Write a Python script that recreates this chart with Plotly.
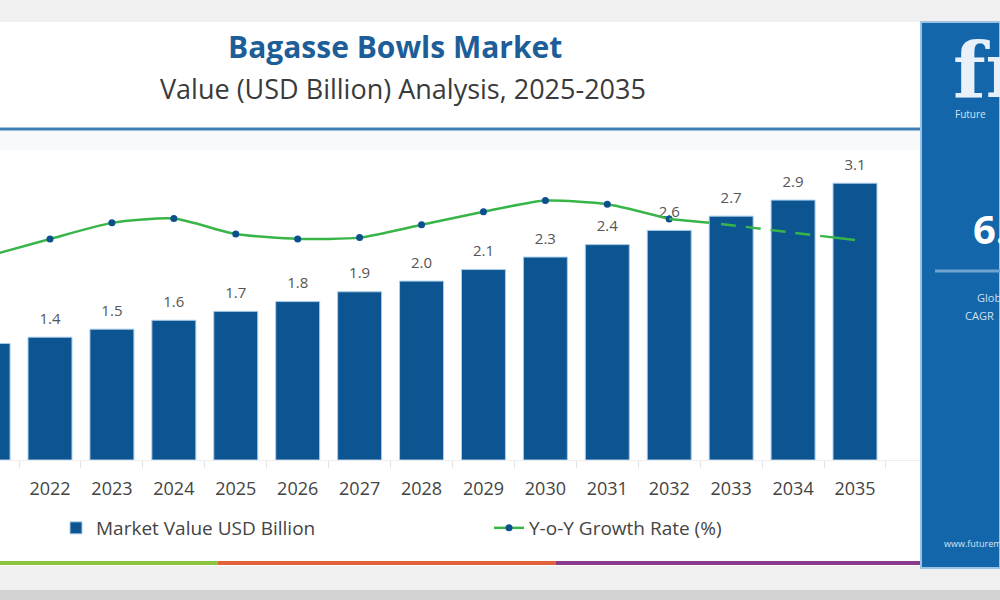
import plotly.graph_objects as go

# ---------------- data ----------------
years = [str(y) for y in range(2021, 2036)]
market_value = [1.31, 1.38, 1.47, 1.57, 1.67, 1.78, 1.89, 2.01, 2.14, 2.28, 2.42, 2.58, 2.74, 2.92, 3.11]
yoy_actual_years = years[:12]          # 2021-2032 solid
yoy_actual = [6.22, 6.74, 7.23, 7.36, 6.89, 6.74, 6.78, 7.17, 7.57, 7.91, 7.80, 7.35]
yoy_fcst_years = years[11:]            # 2032-2035 dashed
yoy_fcst = [7.35, 7.16, 6.93, 6.71]

title = "Bagasse Bowls Market"
subtitle = "Value (USD Billion) Analysis, 2025-2035"

W, H = 1000, 600
BAR_BLUE = "#0c5591"
GREEN = "#38b549"
FONT = "Open Sans"


def py(p):
    return 1 - p / H


def px(p):
    return p / W


fig = go.Figure()

fig.add_trace(go.Bar(
    x=years, y=market_value, name="Market Value USD Billion",
    marker=dict(color=BAR_BLUE, line=dict(color="#a9cdec", width=1)),
    yaxis="y", showlegend=True, hoverinfo="x+y",
))

# value labels above the bars (the 2021 bar is cropped at the left edge, its label is not shown)
labels = [f"{v:.1f}" for v in market_value]
labels[0] = ""
fig.add_trace(go.Scatter(
    x=years, y=market_value, mode="markers+text", yaxis="y", showlegend=False,
    text=labels, textposition="top center",
    textfont=dict(family=FONT, size=15, color="#555555"),
    marker=dict(size=14, opacity=0), hoverinfo="skip",
))

fig.add_trace(go.Scatter(
    x=yoy_actual_years, y=yoy_actual, name="Y-o-Y Growth Rate (%)",
    mode="lines+markers", yaxis="y2",
    line=dict(color=GREEN, width=2.5, shape="spline", smoothing=0.6),
    marker=dict(color="#0b4f8c", size=7),
))
fig.add_trace(go.Scatter(
    x=yoy_fcst_years, y=yoy_fcst, name="Y-o-Y Growth Rate (%)",
    mode="lines", yaxis="y2", showlegend=False,
    line=dict(color=GREEN, width=2.5, dash="40px,12px,15px,10px,15px,10px,15px,10px,15px,10px",
              shape="spline", smoothing=0.6),
))


def note(x, y, text, size, color, family=FONT, xanchor="center"):
    return dict(x=px(x), y=py(y), xref="paper", yref="paper", text=text, showarrow=False,
                xanchor=xanchor, yanchor="middle",
                font=dict(family=family, size=size, color=color))


annotations = [
    note(395, 46, f"<b>{title}</b>", 30, "#1d5e98"),
    note(403, 88, subtitle, 27, "#3a3a3a"),
    # side panel texts
    note(951, 70, "<b>fr</b>", 76, "#e8f1fa", family="DejaVu Serif", xanchor="left"),
    note(953, 114, "Future", 10, "#d5e5f4", xanchor="left"),
    note(971, 229, "<b>6.</b>", 40, "#ffffff", xanchor="left"),
    note(975, 297, "Global", 11, "#cfe0f0", xanchor="left"),
    note(963, 315, "CAGR", 11, "#cfe0f0", xanchor="left"),
    note(942, 543, "www.futuremarketinsights.com", 9, "#d5e5f4", xanchor="left"),
]

shapes = [
    # white card
    dict(type="rect", xref="paper", yref="paper", x0=0, x1=px(925), y0=py(566), y1=py(22),
         fillcolor="white", line=dict(width=0), layer="below"),
    # light band under title line
    dict(type="rect", xref="paper", yref="paper", x0=0, x1=px(922), y0=py(150), y1=py(131),
         fillcolor="#f8f9fa", line=dict(width=0), layer="below"),
    # bottom darker strip
    dict(type="rect", xref="paper", yref="paper", x0=0, x1=1, y0=0, y1=py(590),
         fillcolor="#d2d2d2", line=dict(width=0), layer="below"),
    # blue rule under title
    dict(type="rect", xref="paper", yref="paper", x0=0, x1=px(924), y0=py(130.5), y1=py(127.5),
         fillcolor="#3f7fb4", line=dict(width=0), layer="below"),
    # coloured bottom rule
    dict(type="rect", xref="paper", yref="paper", x0=0, x1=px(218), y0=py(565), y1=py(561),
         fillcolor="#8cc43f", line=dict(width=0), layer="above"),
    dict(type="rect", xref="paper", yref="paper", x0=px(218), x1=px(556), y0=py(565), y1=py(561),
         fillcolor="#e2623b", line=dict(width=0), layer="above"),
    dict(type="rect", xref="paper", yref="paper", x0=px(556), x1=px(921), y0=py(565), y1=py(561),
         fillcolor="#8a3b8e", line=dict(width=0), layer="above"),
    # side panel
    dict(type="rect", xref="paper", yref="paper", x0=px(921), x1=1, y0=py(568), y1=py(22),
         fillcolor="#1366a9", line=dict(color="#9cc3e4", width=2), layer="above"),
    dict(type="line", xref="paper", yref="paper", x0=px(935), x1=1, y0=py(271), y1=py(271),
         line=dict(color="#6fa3d0", width=3), layer="above"),
]

# x range in category units so that 2022 sits at x=50px and pitch is ~61.9px
pitch = (855 - 50) / 13
r0 = 1 - 50 / pitch
r1 = r0 + W / pitch

fig.update_layout(
    width=W, height=H,
    margin=dict(l=0, r=0, t=0, b=0),
    paper_bgcolor="#f0f0f0", plot_bgcolor="rgba(0,0,0,0)",
    font=dict(family=FONT, color="#444444"),
    bargap=0.29,
    xaxis=dict(type="category", range=[r0, r1], domain=[0, 1],
               tickson="boundaries", ticks="outside", ticklen=7, tickcolor="#e4e4e4",
               showline=True, linecolor="#eeeeee", showgrid=False,
               tickfont=dict(family=FONT, size=18, color="#444444"), ticklabelstandoff=12),
    yaxis=dict(domain=[py(460), py(132)], range=[0, 328 / 89], visible=False, showgrid=False),
    yaxis2=dict(domain=[py(460), py(132)], range=[0, 10], overlaying="y", visible=False,
                showgrid=False),
    legend=dict(orientation="h", x=px(56), y=py(528), yanchor="middle", xanchor="left",
                bgcolor="rgba(0,0,0,0)", entrywidth=388,
                font=dict(family=FONT, size=19, color="#444444")),
    shapes=shapes,
    annotations=annotations,
)

fig.write_html("out.html")
